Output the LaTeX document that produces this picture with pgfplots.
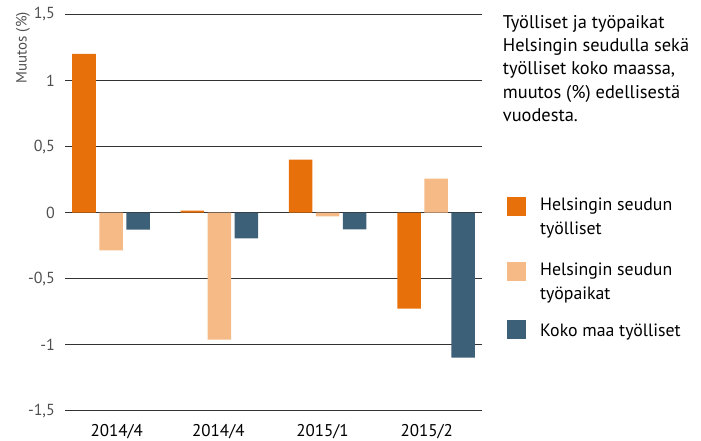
\documentclass[border=0pt]{standalone}
\usepackage{pgfplots}
\pgfplotsset{compat=1.18}
\usepackage{fontspec}
\setmainfont{PT Sans}
\definecolor{c1}{HTML}{E8700A}
\definecolor{c2}{HTML}{F6BA87}
\definecolor{c3}{HTML}{3D6079}
\definecolor{tk}{HTML}{505050}
\definecolor{gr}{HTML}{333333}
\newcommand{\fs}[1]{\fontsize{#1bp}{#1bp}\selectfont}
\begin{document}
\begin{tikzpicture}[x=1bp,y=1bp]
\path[use as bounding box] (0,0) rectangle (701,441);
\begin{axis}[
  at={(65bp,30bp)}, anchor=south west,
  scale only axis, width=417bp, height=396.7bp,
  xmin=-0.4246, xmax=3.4246, ymin=-1.5, ymax=1.5,
  axis line style={draw=none},
  major tick length=0pt,
  ytick={-1.5,-1,-0.5,0,0.5,1,1.5},
  xtick={0.053,0.991,1.953,2.915},
  xticklabels={2014/4,2014/4,2015/1,2015/2},
  ymajorgrids, grid style={gr, line width=1bp},
  /pgf/number format/assume math mode=true,
  /pgf/number format/use comma,
  yticklabel style={font=\fs{16}, text=tk, inner sep=0pt, anchor=east, xshift=-10bp},
  xticklabel style={font=\fs{17}, text=black, inner sep=0pt, anchor=north, yshift=-13bp},
  ybar, bar width=23.5bp,
  clip=false,
]
\addplot[fill=c1, draw=none, bar shift=-27bp] coordinates {(0,1.20) (1,0.015) (2,0.40) (3,-0.725)};
\addplot[fill=c2, draw=none, bar shift=0bp] coordinates {(0,-0.285) (1,-0.96) (2,-0.028) (3,0.258)};
\addplot[fill=c3, draw=none, bar shift=27bp] coordinates {(0,-0.129) (1,-0.195) (2,-0.126) (3,-1.096)};
\end{axis}
\node[rotate=90, anchor=base east, font=\fs{15}, text=tk, inner sep=0pt] at (26.7,429) {Muutos (\%)};
% title
\begin{scope}[every node/.style={anchor=base west, inner sep=0pt, font=\fs{18.4}}]
\node at (502.7,412.7) {Työlliset ja työpaikat};
\node at (502.7,389.4) {Helsingin seudulla sekä};
\node at (502.7,366.1) {työlliset koko maassa,};
\node at (502.7,342.8) {muutos (\%) edellisestä};
\node at (502.7,319.5) {vuodesta.};
\end{scope}
% legend
\fill[c1] (506.7,225.3) rectangle (526,243.7);
\fill[c2] (506.7,160.3) rectangle (526,179.3);
\fill[c3] (506.7,102) rectangle (526,121);
\begin{scope}[every node/.style={anchor=base west, inner sep=0pt, font=\fs{17.8}}]
\node at (540,230.3) {Helsingin seudun};
\node at (540,206.7) {työlliset};
\node at (540,165.3) {Helsingin seudun};
\node at (540,141.7) {työpaikat};
\node at (540,104) {Koko maa työlliset};
\end{scope}
\end{tikzpicture}
\end{document}
